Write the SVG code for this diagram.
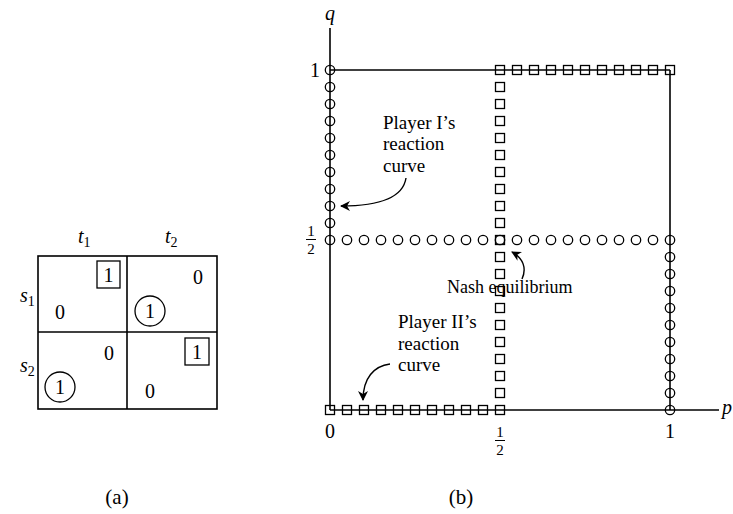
<svg xmlns="http://www.w3.org/2000/svg" width="733" height="514" viewBox="0 0 733 514">
<style>
text{font-family:"Liberation Serif","Times New Roman",serif;fill:#000}
.n{font-size:20px}
.it{font-style:italic}
.lab{font-size:19px}
.nash{font-size:18px}
.fr{font-size:15px}
.cap{font-size:21px}
.ln{stroke:#000;stroke-width:1.6;fill:none}
.c{stroke:#000;stroke-width:1.3;fill:none}
.arr{stroke:#000;stroke-width:1.4;fill:none;marker-end:url(#ah)}
</style>
<defs>
<marker id="ah" viewBox="0 0 10 10" refX="9" refY="5" markerWidth="10" markerHeight="10" markerUnits="userSpaceOnUse" orient="auto">
<path d="M0,0 L10,5 L0,10 L3,5 Z" fill="#000"/>
</marker>
<circle id="o" r="4.7" class="c"/>
<rect id="sq" x="-4.5" y="-4.5" width="9" height="9" class="c"/>
</defs>

<g id="matrix">
<rect x="38" y="256" width="179" height="153" class="ln"/>
<line x1="127" y1="256" x2="127" y2="409" class="ln"/>
<line x1="38" y1="332" x2="217" y2="332" class="ln"/>
<text x="78" y="243" class="n it">t<tspan font-size="14" font-style="normal" dy="4">1</tspan></text>
<text x="165" y="243" class="n it">t<tspan font-size="14" font-style="normal" dy="4">2</tspan></text>
<text x="20" y="302" class="n it">s<tspan font-size="14" font-style="normal" dy="4">1</tspan></text>
<text x="20" y="372" class="n it">s<tspan font-size="14" font-style="normal" dy="4">2</tspan></text>
<rect x="97" y="261" width="23" height="27" class="c"/>
<text x="108.5" y="282" class="n" text-anchor="middle">1</text>
<text x="60" y="319" class="n" text-anchor="middle">0</text>
<text x="198" y="284" class="n" text-anchor="middle">0</text>
<circle cx="150" cy="311" r="15" class="c"/>
<text x="150" y="318" class="n" text-anchor="middle">1</text>
<text x="109" y="360" class="n" text-anchor="middle">0</text>
<circle cx="60" cy="387" r="15" class="c"/>
<text x="60" y="394" class="n" text-anchor="middle">1</text>
<rect x="185" y="338" width="24" height="27" class="c"/>
<text x="197" y="359" class="n" text-anchor="middle">1</text>
<text x="150" y="398" class="n" text-anchor="middle">0</text>
</g>

<g id="axes">
<line x1="330" y1="28" x2="330" y2="410" class="ln"/>
<line x1="330" y1="410" x2="719" y2="410" class="ln"/>
<line x1="330" y1="70" x2="670" y2="70" class="ln"/>
<line x1="670" y1="70" x2="670" y2="410" class="ln"/>
<text x="330" y="20" class="n it" text-anchor="middle">q</text>
<text x="727" y="414" class="n it" text-anchor="middle">p</text>
<text x="315" y="77" class="n" text-anchor="middle">1</text>
<text x="330" y="438" class="n" text-anchor="middle">0</text>
<text x="670" y="438" class="n" text-anchor="middle">1</text>
<text x="500" y="437" class="fr" text-anchor="middle">1</text>
<line x1="495" y1="440.5" x2="505" y2="440.5" stroke="#000" stroke-width="1"/>
<text x="500" y="455" class="fr" text-anchor="middle">2</text>
<text x="311" y="236" class="fr" text-anchor="middle">1</text>
<line x1="306" y1="239.5" x2="316" y2="239.5" stroke="#000" stroke-width="1"/>
<text x="311" y="254" class="fr" text-anchor="middle">2</text>
</g>

<g id="player1-curve">
<use href="#o" x="330" y="70"/><use href="#o" x="330" y="87"/><use href="#o" x="330" y="104"/><use href="#o" x="330" y="121"/><use href="#o" x="330" y="138"/><use href="#o" x="330" y="155"/><use href="#o" x="330" y="172"/><use href="#o" x="330" y="189"/><use href="#o" x="330" y="206"/><use href="#o" x="330" y="223"/><use href="#o" x="330" y="240"/>
<use href="#o" x="347" y="240"/><use href="#o" x="364" y="240"/><use href="#o" x="381" y="240"/><use href="#o" x="398" y="240"/><use href="#o" x="415" y="240"/><use href="#o" x="432" y="240"/><use href="#o" x="449" y="240"/><use href="#o" x="466" y="240"/><use href="#o" x="483" y="240"/><use href="#o" x="500" y="240"/><use href="#o" x="517" y="240"/><use href="#o" x="534" y="240"/><use href="#o" x="551" y="240"/><use href="#o" x="568" y="240"/><use href="#o" x="585" y="240"/><use href="#o" x="602" y="240"/><use href="#o" x="619" y="240"/><use href="#o" x="636" y="240"/><use href="#o" x="653" y="240"/><use href="#o" x="670" y="240"/>
<use href="#o" x="670" y="257"/><use href="#o" x="670" y="274"/><use href="#o" x="670" y="291"/><use href="#o" x="670" y="308"/><use href="#o" x="670" y="325"/><use href="#o" x="670" y="342"/><use href="#o" x="670" y="359"/><use href="#o" x="670" y="376"/><use href="#o" x="670" y="393"/><use href="#o" x="670" y="410"/>
</g>

<g id="player2-curve">
<use href="#sq" x="500" y="70"/><use href="#sq" x="517" y="70"/><use href="#sq" x="534" y="70"/><use href="#sq" x="551" y="70"/><use href="#sq" x="568" y="70"/><use href="#sq" x="585" y="70"/><use href="#sq" x="602" y="70"/><use href="#sq" x="619" y="70"/><use href="#sq" x="636" y="70"/><use href="#sq" x="653" y="70"/><use href="#sq" x="670" y="70"/>
<use href="#sq" x="500" y="87"/><use href="#sq" x="500" y="104"/><use href="#sq" x="500" y="121"/><use href="#sq" x="500" y="138"/><use href="#sq" x="500" y="155"/><use href="#sq" x="500" y="172"/><use href="#sq" x="500" y="189"/><use href="#sq" x="500" y="206"/><use href="#sq" x="500" y="223"/><use href="#sq" x="500" y="240"/><use href="#sq" x="500" y="257"/><use href="#sq" x="500" y="274"/><use href="#sq" x="500" y="291"/><use href="#sq" x="500" y="308"/><use href="#sq" x="500" y="325"/><use href="#sq" x="500" y="342"/><use href="#sq" x="500" y="359"/><use href="#sq" x="500" y="376"/><use href="#sq" x="500" y="393"/><use href="#sq" x="500" y="410"/>
<use href="#sq" x="330" y="410"/><use href="#sq" x="347" y="410"/><use href="#sq" x="364" y="410"/><use href="#sq" x="381" y="410"/><use href="#sq" x="398" y="410"/><use href="#sq" x="415" y="410"/><use href="#sq" x="432" y="410"/><use href="#sq" x="449" y="410"/><use href="#sq" x="466" y="410"/><use href="#sq" x="483" y="410"/>
</g>

<g id="label-player1">
<text x="383" y="129" class="lab">Player I’s</text>
<text x="383" y="150" class="lab">reaction</text>
<text x="383" y="172" class="lab">curve</text>
</g>
<g id="label-nash">
<text x="447" y="293" class="nash">Nash equilibrium</text>
</g>
<g id="label-player2">
<text x="398" y="328" class="lab">Player II’s</text>
<text x="398" y="350" class="lab">reaction</text>
<text x="398" y="371" class="lab">curve</text>
</g>

<g id="connectors">
<path d="M406,178 C403,198 378,206 341,206" class="arr"/>
<path d="M522,279 C527,268 523,258 512,252" class="arr"/>
<path d="M390,364 C374,366 363,378 363,400" class="arr"/>
</g>

<text x="117" y="504" class="cap" text-anchor="middle">(a)</text>
<text x="461" y="504" class="cap" text-anchor="middle">(b)</text>
</svg>
